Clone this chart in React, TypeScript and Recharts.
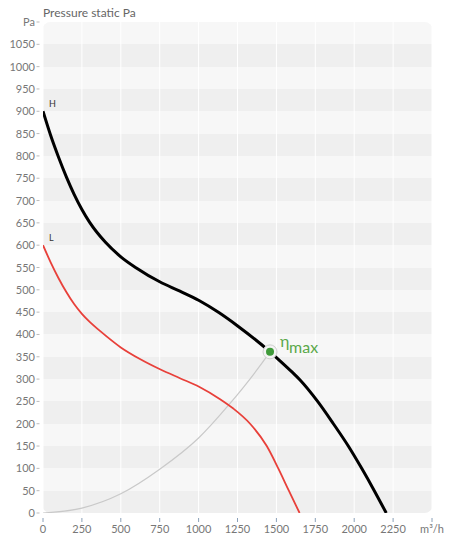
import { LineChart, Line, XAxis, YAxis, CartesianGrid, ReferenceDot } from "recharts";

// ── axis ticks ──
const X_TICKS = [0, 250, 500, 750, 1000, 1250, 1500, 1750, 2000, 2250, 2500];
const Y_TICKS = [0, 50, 100, 150, 200, 250, 300, 350, 400, 450, 500, 550, 600, 650, 700, 750, 800, 850, 900, 950, 1000, 1050, 1100];

// ── curve H (high speed) ──
const H_FLOW = [0, 50, 100, 150, 200, 250, 300, 400, 500, 600, 750, 880, 1003, 1130, 1251, 1459, 1523, 1600, 1652, 1765, 1866, 1962, 2048, 2129, 2206];
const H_PRESSURE = [900, 845, 797, 753, 714, 680, 651, 607, 574, 549, 518, 497, 476, 449, 419, 361, 341, 316, 298, 250, 200, 150, 100, 50, 0];

// ── curve L (low speed) ──
const L_FLOW = [0, 50, 100, 150, 200, 250, 300, 366, 500, 623, 752, 880, 1003, 1138, 1223, 1331, 1438, 1512, 1580, 1649];
const L_PRESSURE = [600, 561, 526, 495, 468, 446, 428, 408, 371, 345, 322, 302, 283, 255, 234, 200, 150, 100, 50, 0];

// ── system curve through best efficiency point ──
const SYS_FLOW = [0, 250, 500, 750, 1000, 1191, 1395, 1459];
const SYS_PRESSURE = [0, 11, 43, 98, 168, 241, 330, 361];

const ETA_MAX = { flow: 1459, pressure: 361 };

const zip = (xs: number[], ys: number[]) => xs.map((x, i) => ({ x, y: ys[i] }));

const hData = zip(H_FLOW, H_PRESSURE);
const lData = zip(L_FLOW, L_PRESSURE);
const sysData = zip(SYS_FLOW, SYS_PRESSURE);

const TICK_COLOR = "#777";
const GREEN = "#5aa84a";

function YTick(props: any) {
  const { x, y, payload } = props;
  return (
    <g>
      <text x={x} y={y} dy={4} textAnchor="end" fontSize={11} fill={TICK_COLOR}>
        {payload.value === 1100 ? "Pa" : payload.value}
      </text>
      <line x1={x + 1.5} x2={x + 4.5} y1={y} y2={y} stroke="#bbb" />
    </g>
  );
}

function XTick(props: any) {
  const { x, y, payload } = props;
  return (
    <g>
      <line x1={x} x2={x} y1={y + 5} y2={y + 9} stroke="#8aa0b8" />
      <text x={x} y={y + 20} textAnchor="middle" fontSize={11} fill={TICK_COLOR}>
        {payload.value === 2500 ? "m³/h" : payload.value}
      </text>
    </g>
  );
}

const curveLabel = (text: string) => (props: any) => {
  if (props.index !== 0) return null;
  return (
    <text x={props.x + 6} y={props.y - 4} fontSize={9} fill="#333">
      {text}
    </text>
  );
};

function EtaMarker(props: any) {
  const { cx, cy } = props;
  return (
    <g>
      <circle cx={cx} cy={cy} r={7} fill="#f4f4f4" stroke="#cfcfcf" />
      <circle cx={cx} cy={cy} r={4} fill="#3f9a3a" />
      <text x={cx + 10} y={cy - 5} fontSize={16} fill={GREEN}>η</text>
      <text x={cx + 19} y={cy + 1} fontSize={16} fill={GREEN}>max</text>
    </g>
  );
}

export default function App() {
  return (
    <div style={{ position: "absolute", left: 0, top: 0, width: 450, height: 556, fontFamily: "Lato, sans-serif", background: "#fff" }}>
      <style>{".recharts-cartesian-grid{clip-path:inset(0 round 8px);}"}</style>
      <div style={{ position: "absolute", left: 43, top: 5, fontSize: 12, color: "#666" }}>Pressure static Pa</div>
      <LineChart width={450} height={556} margin={{ top: 22, right: 18, bottom: 13, left: 0 }}>
        <CartesianGrid
          stroke="#fff"
          horizontal={() => null}
          horizontalFill={["#f7f7f7", "#efefef"]}
        />
        <XAxis
          type="number"
          dataKey="x"
          domain={[0, 2500]}
          ticks={X_TICKS}
          axisLine={false}
          tickLine={false}
          tickSize={0}
          tickMargin={0}
          height={30}
          tick={<XTick />}
          interval={0}
          allowDataOverflow
        />
        <YAxis
          type="number"
          dataKey="y"
          domain={[0, 1100]}
          ticks={Y_TICKS}
          axisLine={false}
          tickLine={false}
          tickSize={4}
          tickMargin={4}
          width={43}
          tick={<YTick />}
          interval={0}
          allowDataOverflow
        />
        <Line
          data={sysData}
          dataKey="y"
          type="monotone"
          stroke="#c9c9c9"
          strokeWidth={1.2}
          dot={false}
          activeDot={false}
          isAnimationActive={false}
        />
        <Line
          data={lData}
          dataKey="y"
          type="monotone"
          stroke="#e8403a"
          strokeWidth={1.8}
          dot={false}
          activeDot={false}
          label={curveLabel("L")}
          isAnimationActive={false}
        />
        <Line
          data={hData}
          dataKey="y"
          type="monotone"
          stroke="#000"
          strokeWidth={3}
          dot={false}
          activeDot={false}
          label={curveLabel("H")}
          isAnimationActive={false}
        />
        <ReferenceDot x={ETA_MAX.flow} y={ETA_MAX.pressure} shape={EtaMarker} />
      </LineChart>
    </div>
  );
}
